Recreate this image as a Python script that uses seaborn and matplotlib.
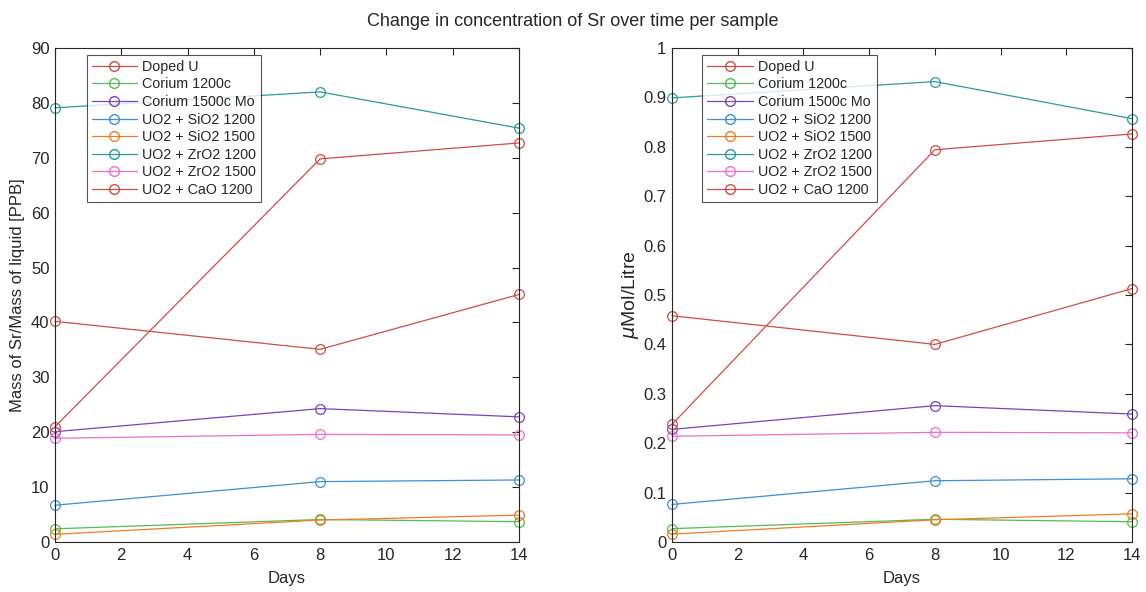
import numpy as np
import pandas as pd
import matplotlib
matplotlib.use("Agg")
import matplotlib.pyplot as plt
import seaborn as sns

days = [0, 8, 14]
samples = ["Doped U", "Corium 1200c", "Corium 1500c Mo", "UO2 + SiO2 1200",
           "UO2 + SiO2 1500", "UO2 + ZrO2 1200", "UO2 + ZrO2 1500", "UO2 + CaO 1200"]

ppb_doped_u = [40.2, 35.1, 45.1]
ppb_corium_1200 = [2.4, 4.1, 3.7]
ppb_corium_1500 = [20.1, 24.3, 22.8]
ppb_sio2_1200 = [6.7, 11.0, 11.3]
ppb_sio2_1500 = [1.4, 4.0, 4.9]
ppb_zro2_1200 = [79.1, 82.0, 75.4]
ppb_zro2_1500 = [18.9, 19.6, 19.5]
ppb_cao_1200 = [21.0, 69.8, 72.7]

umol_doped_u = [0.458, 0.400, 0.513]
umol_corium_1200 = [0.027, 0.046, 0.041]
umol_corium_1500 = [0.228, 0.276, 0.259]
umol_sio2_1200 = [0.076, 0.124, 0.128]
umol_sio2_1500 = [0.016, 0.045, 0.057]
umol_zro2_1200 = [0.899, 0.932, 0.857]
umol_zro2_1500 = [0.214, 0.222, 0.221]
umol_cao_1200 = [0.238, 0.794, 0.826]

ppb = [ppb_doped_u, ppb_corium_1200, ppb_corium_1500, ppb_sio2_1200,
       ppb_sio2_1500, ppb_zro2_1200, ppb_zro2_1500, ppb_cao_1200]
umol = [umol_doped_u, umol_corium_1200, umol_corium_1500, umol_sio2_1200,
        umol_sio2_1500, umol_zro2_1200, umol_zro2_1500, umol_cao_1200]

colors = ["#d24b45", "#55bb55", "#7a44b8", "#3d8fd6", "#f07b22", "#2a9a9e", "#f06ccc", "#d24b45"]

rows = []
for s, a, b in zip(samples, ppb, umol):
    for d, va, vb in zip(days, a, b):
        rows.append({"Sample": s, "Days": d, "PPB": va, "uMol": vb})
df = pd.DataFrame(rows)

sns.set_theme(style="white")
plt.rcParams['font.family'] = ['Arial', 'Liberation Sans', 'DejaVu Sans']

fig = plt.figure(figsize=(11.46, 5.92), dpi=100)
ax1 = fig.add_axes([55/1146, 1-542/592, 464/1146, 494/592])
ax2 = fig.add_axes([672/1146, 1-542/592, 460/1146, 494/592])

MS = 7
for ax, col, ylim, yt in [(ax1, "PPB", (0, 90), np.arange(0, 91, 10)),
                          (ax2, "uMol", (0, 1), np.round(np.arange(0, 1.01, 0.1), 1))]:
    sns.lineplot(data=df, x="Days", y=col, hue="Sample", hue_order=samples,
                 palette=colors, marker="o", markersize=MS, markerfacecolor="none",
                 markeredgewidth=0.9, linewidth=0.9, ax=ax, legend=False)
    for line, c in zip(ax.get_lines(), colors):
        line.set_markeredgecolor(c)
        line.set_clip_on(False)
    ax.set_xlim(0, 14)
    ax.set_ylim(*ylim)
    ax.set_xticks(np.arange(0, 15, 2))
    ax.set_yticks(yt)
    if col == "uMol":
        ax.set_yticklabels(["0", "0.1", "0.2", "0.3", "0.4", "0.5", "0.6", "0.7", "0.8", "0.9", "1"])
    ax.tick_params(direction="in", length=5, width=0.8, top=True, right=True,
                   labelsize=12, colors="#262626", pad=4)
    for sp in ax.spines.values():
        sp.set_color("#262626")
        sp.set_linewidth(0.8)
    ax.set_xlabel("Days", fontsize=12, color="#262626", labelpad=6)
    handles = [plt.Line2D([], [], color=c, lw=0.9, marker="o", markersize=MS,
                          markerfacecolor="none", markeredgecolor=c) for c in colors]
    leg = ax.legend(handles, samples, loc="upper left",
                    bbox_to_anchor=(0.068 if ax is ax1 else 0.065, 0.986),
                    fontsize=10.3, frameon=True, fancybox=False, borderpad=0.35,
                    labelspacing=0.25, handlelength=3.2, handletextpad=0.35, borderaxespad=0)
    leg.get_frame().set_edgecolor("#262626")
    leg.get_frame().set_linewidth(0.8)

ax1.set_ylabel("Mass of Sr/Mass of liquid [PPB]", fontsize=12, color="#262626")
ax2.set_ylabel(r"$\mu$Mol/Litre", fontsize=14, color="#262626", labelpad=2)
fig.suptitle("Change in concentration of Sr over time per sample", fontsize=13, y=0.978, color="#262626")

fig.savefig("out.png", dpi=100)
